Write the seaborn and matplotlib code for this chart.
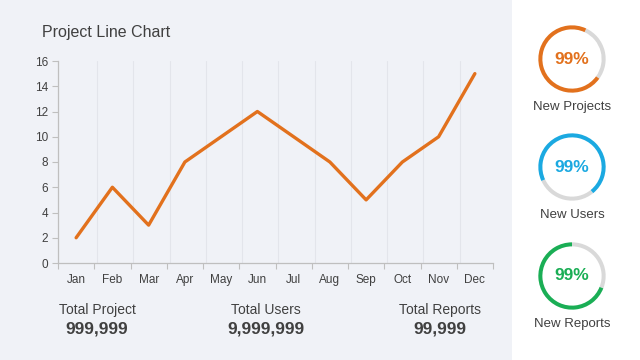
import matplotlib
matplotlib.use('Agg')

import pandas as pd
import matplotlib.pyplot as plt
import seaborn as sns
from matplotlib.patches import Rectangle

# dados
meses = ['Jan', 'Feb', 'Mar', 'Apr', 'May', 'Jun', 'Jul', 'Aug', 'Sep', 'Oct', 'Nov', 'Dec']
valores = [2, 6, 3, 8, 10, 12, 10, 8, 5, 8, 10, 15]

totais_rotulos = ['Total Project', 'Total Users', 'Total Reports']
totais_valores = ['999,999', '9,999,999', '99,999']

aneis_rotulos = ['New Projects', 'New Users', 'New Reports']
aneis_texto = ['99%', '99%', '99%']
aneis_fracao = [0.72, 0.71, 0.69]   # parte colorida do anel
aneis_inicio = [65, -51, 90]        # onde começa a parte cinza (graus)
aneis_cores = ['#E2711D', '#1BA9E1', '#1AAE55']

W, H = 640, 360
BG = '#F0F2F7'
TXT = '#404040'

sns.set_style('white')
plt.rcParams['font.family'] = ['Liberation Sans', 'DejaVu Sans']

fig = plt.figure(figsize=(6.4, 3.6), dpi=100, facecolor=BG)
fig.patches.append(Rectangle((512 / W, 0), 1 - 512 / W, 1, transform=fig.transFigure,
                             facecolor='white', edgecolor='none', zorder=-5))

# ==============================
# GRÁFICO DE LINHA
# ==============================
ax = fig.add_axes([58 / W, 1 - 263 / H, (493 - 58) / W, (263 - 61) / H])
ax.set_facecolor(BG)

df = pd.DataFrame({'mes': meses, 'valor': valores})
sns.lineplot(data=df, x='mes', y='valor', ax=ax, color='#E2711D', linewidth=2.4,
             sort=False, zorder=3)

ax.set_xlim(-0.5, len(meses) - 0.5)
ax.set_ylim(0, 16)
ax.set_yticks(range(0, 17, 2))
ax.set_xlabel('')
ax.set_ylabel('')

for i in range(len(meses) - 1):
    ax.axvline(i + 0.58, color='#E3E5EB', linewidth=0.8, zorder=1)

ax.set_xticks(range(len(meses)))
ax.set_xticklabels(meses)
ax.set_xticks([i - 0.5 for i in range(len(meses) + 1)], minor=True)
ax.tick_params(axis='x', which='major', length=0, pad=8, labelsize=8.5, labelcolor=TXT)
ax.tick_params(axis='x', which='minor', length=4, color='#BFBFBF', width=0.8, direction='out',
               bottom=True)
ax.tick_params(axis='y', length=4, color='#BFBFBF', width=0.8, labelsize=8.5,
               labelcolor=TXT, left=True, pad=3)

for s in ['top', 'right']:
    ax.spines[s].set_visible(False)
for s in ['left', 'bottom']:
    ax.spines[s].set_color('#BFBFBF')
    ax.spines[s].set_linewidth(0.9)

fig.text(42 / W, 1 - 33 / H, 'Project Line Chart', fontsize=11.5, color=TXT,
         ha='left', va='center')

# ==============================
# TOTAIS
# ==============================
pos_x = [97, 266, 440]
for x, rot, val in zip(pos_x, totais_rotulos, totais_valores):
    fig.text(x / W, 1 - 310 / H, rot, fontsize=10, color=TXT, ha='center', va='center')
    fig.text(x / W, 1 - 329 / H, val, fontsize=12.5, color=TXT, ha='center', va='center',
             fontweight='bold')

# ==============================
# ANÉIS
# ==============================
centros_y = [59, 167, 276]
r = 34
for cy, rot, txt, frac, ini, cor in zip(centros_y, aneis_rotulos, aneis_texto,
                                        aneis_fracao, aneis_inicio, aneis_cores):
    a = fig.add_axes([(572 - r) / W, 1 - (cy + r) / H, 2 * r / W, 2 * r / H], zorder=5)
    a.pie([1 - frac, frac], colors=['#D9D9D9', cor], startangle=ini, counterclock=False,
          radius=1, wedgeprops=dict(width=0.12, edgecolor='none'))
    a.set_xlim(-1.01, 1.01)
    a.set_ylim(-1.01, 1.01)
    a.set_aspect('equal')
    a.axis('off')
    a.text(0, 0, txt, ha='center', va='center', fontsize=12.5, fontweight='bold', color=cor)
    fig.text(572 / W, 1 - (cy + 48) / H, rot, fontsize=9.5, color=TXT, ha='center', va='center')

plt.savefig('out.png', dpi=100, facecolor=fig.get_facecolor())
